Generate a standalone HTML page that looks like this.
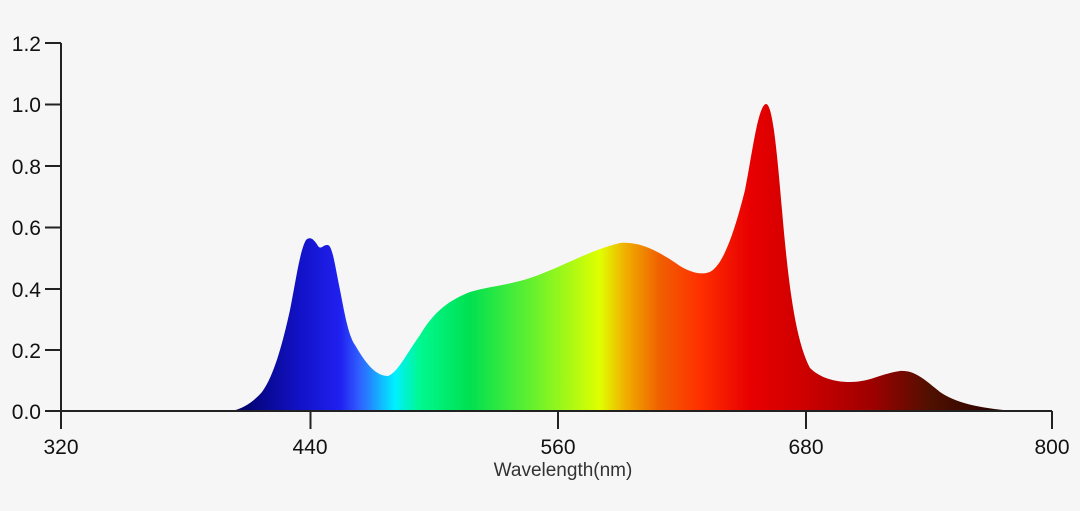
<!DOCTYPE html>
<html><head><meta charset="utf-8"><style>
html,body{margin:0;padding:0;background:#f6f6f6;}
svg{display:block;font-family:"Liberation Sans",sans-serif;}
</style></head><body>
<svg width="1080" height="511" viewBox="0 0 1080 511">
<defs>
<linearGradient id="g" x1="232" y1="0" x2="1015" y2="0" gradientUnits="userSpaceOnUse">
<stop offset="0" stop-color="#000060"/>
<stop offset="0.087" stop-color="#1212c8"/>
<stop offset="0.138" stop-color="#2020f0"/>
<stop offset="0.163" stop-color="#3060ff"/>
<stop offset="0.208" stop-color="#00f0ff"/>
<stop offset="0.240" stop-color="#00f890"/>
<stop offset="0.304" stop-color="#00e050"/>
<stop offset="0.380" stop-color="#60f030"/>
<stop offset="0.470" stop-color="#e0ff00"/>
<stop offset="0.502" stop-color="#f0b000"/>
<stop offset="0.546" stop-color="#f06000"/>
<stop offset="0.598" stop-color="#ff3000"/>
<stop offset="0.661" stop-color="#e80000"/>
<stop offset="0.725" stop-color="#d00000"/>
<stop offset="0.815" stop-color="#a00000"/>
<stop offset="0.891" stop-color="#501000"/>
<stop offset="1" stop-color="#200000"/>
</linearGradient>
</defs>
<path fill="url(#g)" d="M232,411 C245,408 255,400 262,392 C272,378 280,355 290,310 C296,280 300,250 306,240 C310,236 314,239 318,246 C321,250 323,245 327,245 C332,244 334,260 340,290 C344,310 348,335 355,345 C365,362 375,376 388,376 C398,372 405,356 420,335 C435,310 450,300 470,292 C490,286 505,286 530,278 C560,268 590,250 620,243 C640,241 660,252 680,266 C695,275 708,276 715,268 C725,258 735,230 745,190 C752,155 758,105 766,104 C772,104 776,140 782,210 C788,280 795,340 810,368 C820,378 835,382 850,382 C870,382 880,374 900,371 C915,370 925,380 940,392 C955,402 975,408 1015,411 Z"/>
<g stroke="#222" stroke-width="2" fill="none">
<line x1="61" y1="43" x2="61" y2="429"/>
<line x1="61" y1="411" x2="1052" y2="411"/>
<line x1="45" y1="43" x2="61" y2="43"/>
<line x1="45" y1="104.5" x2="61" y2="104.5"/>
<line x1="45" y1="166" x2="61" y2="166"/>
<line x1="45" y1="227.5" x2="61" y2="227.5"/>
<line x1="45" y1="289" x2="61" y2="289"/>
<line x1="45" y1="350" x2="61" y2="350"/>
<line x1="45" y1="411" x2="61" y2="411"/>
<line x1="310.5" y1="411" x2="310.5" y2="429"/>
<line x1="558" y1="411" x2="558" y2="429"/>
<line x1="806" y1="411" x2="806" y2="429"/>
<line x1="1052" y1="411" x2="1052" y2="429"/>
</g>
<g font-size="21" fill="#111" text-anchor="end">
<text x="41" y="51">1.2</text>
<text x="41" y="112">1.0</text>
<text x="41" y="174">0.8</text>
<text x="41" y="235">0.6</text>
<text x="41" y="297">0.4</text>
<text x="41" y="358">0.2</text>
<text x="41" y="419">0.0</text>
</g>
<g font-size="21" fill="#111" text-anchor="middle">
<text x="61" y="454">320</text>
<text x="310" y="454">440</text>
<text x="558" y="454">560</text>
<text x="806" y="454">680</text>
<text x="1052" y="454">800</text>
</g>
<text x="563" y="476" font-size="19" fill="#333" text-anchor="middle">Wavelength(nm)</text>
</svg>
</body></html>
